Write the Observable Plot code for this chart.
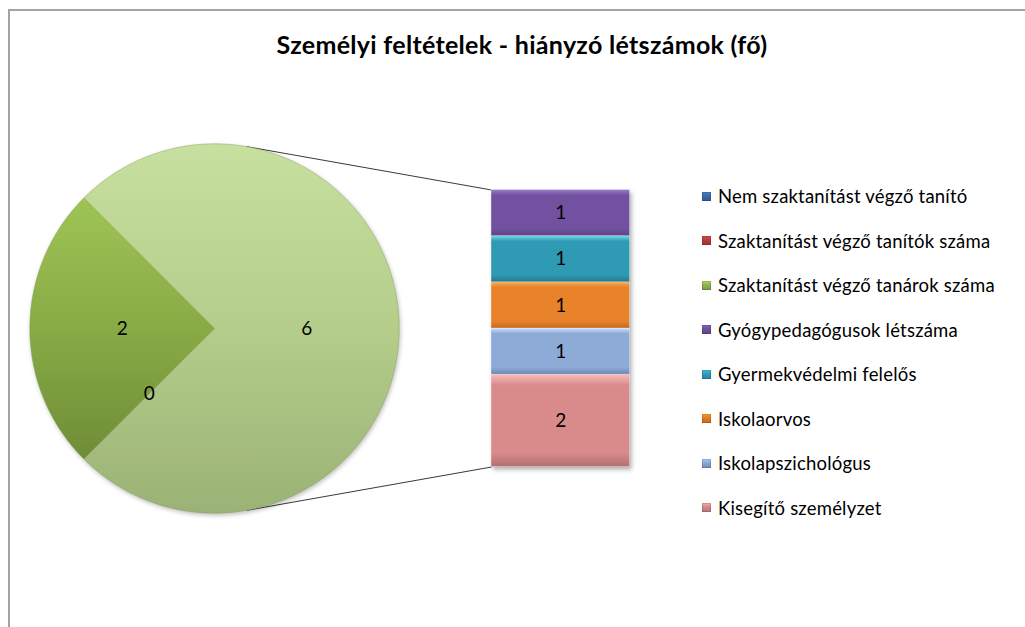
<!DOCTYPE html>
<html><head><meta charset="utf-8">
<script src="https://cdn.jsdelivr.net/npm/d3@7"></script>
<script src="https://cdn.jsdelivr.net/npm/@observablehq/plot@0.6"></script>
<style>
body{margin:0;background:#fff;font-family:Lato,"Open Sans",sans-serif;}
#wrap{position:relative;width:1025px;height:627px;overflow:hidden;background:#fff;}
#frame{position:absolute;left:8px;top:9px;width:1100px;height:700px;border-top:2px solid #a3a3a3;border-left:2px solid #a3a3a3;}
#title{position:absolute;top:29px;left:0;width:1044px;text-align:center;font-weight:bold;font-size:25px;letter-spacing:0.3px;color:#000;}
#chart{position:absolute;left:0;top:80px;}
#legend{position:absolute;left:702px;top:174px;}
.item{display:flex;align-items:center;height:44.5px;font-size:18.5px;letter-spacing:0.2px;color:#000;white-space:nowrap;}
.sw{width:9px;height:9px;margin-right:7px;box-shadow:inset 0 0 0 1px rgba(0,0,0,0.15);}
</style></head>
<body>
<div id="wrap">
  <div id="frame"></div>
  <div id="title">Személyi feltételek - hiányzó létszámok (fő)</div>
  <div id="chart"></div>
  <div id="legend"></div>
</div>
<script>
// ---- data ----
const pieCategories = ["Nem szaktanítást végző tanító", "Szaktanítást végző tanítók száma", "Szaktanítást végző tanárok száma"];
const pieValues = [0, 0, 2];
const barCategories = ["Gyógypedagógusok létszáma", "Gyermekvédelmi felelős", "Iskolaorvos", "Iskolapszichológus", "Kisegítő személyzet"];
const barValues = [1, 1, 1, 1, 2];
const legendCategories = [...pieCategories, ...barCategories];
const legendColors = ["#3b68a9", "#b43b3b", "#8db24e", "#6d5098", "#2f9ab3", "#e07d24", "#8aa6d2", "#d08b8b"];
// gradient stops (top, base, bottom) for slices / segments
const pieShades = [["#5a86c4","#3b68a9","#2e5287"], ["#d05a5a","#b43b3b","#8e2e2e"], ["#9fc455","#88ab45","#6f8d37"], ["#c8e09f","#b4cd8a","#9bb276"]];
const barShades = [["#9c7ccb","#7252a0","#5d4285"], ["#6fdcf0","#2f9ab3","#247a8e"], ["#fbaa5c","#e8832b","#c46a1e"], ["#cfe1fb","#8eabd8","#6f88b0"], ["#f8bcbc","#d98b8b","#b56f6f"]];

// ---- layout ----
const U = 46.17;          // px per person
const W = 680, H = 500;   // svg size
const cx = 214, cy = 248; // pie centre in svg px
const R = 4;              // pie radius (units)
const barX1 = 6, barX2 = 9;

const otherTotal = d3.sum(barValues);
const pieData = [...pieCategories.map((c, i) => ({name: c, value: pieValues[i]})), {name: "Other", value: otherTotal}];
const a0 = 5 * Math.PI / 4;
const arcs = d3.pie().sort(null).value(d => d.value).startAngle(a0).endAngle(a0 + 2 * Math.PI)(pieData);

const slicePts = [];
arcs.forEach((a, i) => {
  const span = a.endAngle - a.startAngle;
  if (span <= 0) return;
  const n = Math.ceil(span / 0.01);
  const fill = `url(#pg${i})`;
  slicePts.push({x: 0, y: 0, key: i, fill});
  for (let k = 0; k <= n; k++) {
    const t = a.startAngle + span * k / n;
    slicePts.push({x: R * Math.sin(t), y: R * Math.cos(t), key: i, fill});
  }
  slicePts.push({x: 0, y: 0, key: i, fill});
});
const pieLabels = arcs.map(a => {
  const m = (a.startAngle + a.endAngle) / 2;
  return {x: R / 2 * Math.sin(m), y: R / 2 * Math.cos(m), text: String(a.data.value)};
});
// keep one label per position
const seen = new Set();
const pieLabelsU = pieLabels.filter(d => { const k = d.x.toFixed(3) + "," + d.y.toFixed(3); if (seen.has(k)) return false; seen.add(k); return true; });

// stacked bar, bottom = last category, centred on pie centre
const segs = [];
let acc = -otherTotal / 2;
for (let i = barValues.length - 1; i >= 0; i--) {
  segs.push({name: barCategories[i], value: barValues[i], y1: acc, y2: acc + barValues[i], fill: `url(#bg${i})`});
  acc += barValues[i];
}
const barTop = otherTotal / 2, barBot = -otherTotal / 2;
// tangent lines from bar corners to pie
function tangent(px, py, sign) {
  const d = Math.hypot(px, py);
  const ang = Math.atan2(py, px) + sign * Math.acos(R / d);
  return {x1: R * Math.cos(ang), y1: R * Math.sin(ang), x2: px, y2: py};
}
const links = [tangent(barX1, barTop, 1), tangent(barX1, barBot, -1)];

const plot = Plot.plot({
  width: W, height: H, margin: 0,
  style: {fontFamily: "Lato, 'Open Sans', sans-serif", background: "transparent"},
  x: {domain: [-cx / U, (W - cx) / U], axis: null},
  y: {domain: [-(H - cy) / U, cy / U], axis: null},
  color: {type: "identity"},
  marks: [
    Plot.link(links, {x1: "x1", y1: "y1", x2: "x2", y2: "y2", stroke: "#3a3a3a", strokeWidth: 1}),
    Plot.line(slicePts, {x: "x", y: "y", z: "key", fill: "fill", stroke: "#7f9a52", strokeWidth: 0.7, strokeOpacity: 0.6, curve: "linear"}),
    Plot.text(pieLabelsU, {x: "x", y: "y", text: "text", fontSize: 19, fill: "#000"}),
    Plot.rect(segs, {x1: barX1, x2: barX2, y1: "y1", y2: "y2", fill: "fill", stroke: "#ffffff", strokeWidth: 0.6, strokeOpacity: 0.5}),
    Plot.text(segs, {x: (barX1 + barX2) / 2, y: d => (d.y1 + d.y2) / 2, text: d => String(d.value), fontSize: 19, fill: "#000"})
  ]
});

// gradient definitions
const svg = d3.select(plot);
const defs = svg.insert("defs", ":first-child");
function grad(id, [top, base, bottom], stops) {
  const g = defs.append("linearGradient").attr("id", id).attr("x1", 0).attr("y1", 0).attr("x2", 0).attr("y2", 1);
  stops.forEach(([o, c]) => g.append("stop").attr("offset", o).attr("stop-color", c === 0 ? top : c === 1 ? base : bottom));
}
pieShades.forEach((s, i) => grad(`pg${i}`, s, [[0, 0], [0.5, 1], [1, 2]]));
barShades.forEach((s, i) => grad(`bg${i}`, s, [[0, 0], [0.12, 1], [0.85, 1], [1, 2]]));
svg.selectAll('g[aria-label="rect"]').style("filter", "drop-shadow(2px 3px 2px rgba(0,0,0,0.3))");
svg.selectAll('g[aria-label="line"]').style("filter", "drop-shadow(1px 2px 2px rgba(0,0,0,0.25))");
document.getElementById("chart").appendChild(plot);

// legend
const leg = d3.select("#legend");
legendCategories.forEach((c, i) => {
  const it = leg.append("div").attr("class", "item");
  it.append("div").attr("class", "sw").style("background", `linear-gradient(${d3.color(legendColors[i]).brighter(0.6)}, ${legendColors[i]} 45%, ${d3.color(legendColors[i]).darker(0.4)})`);
  it.append("span").text(c);
});
</script>
</body></html>
